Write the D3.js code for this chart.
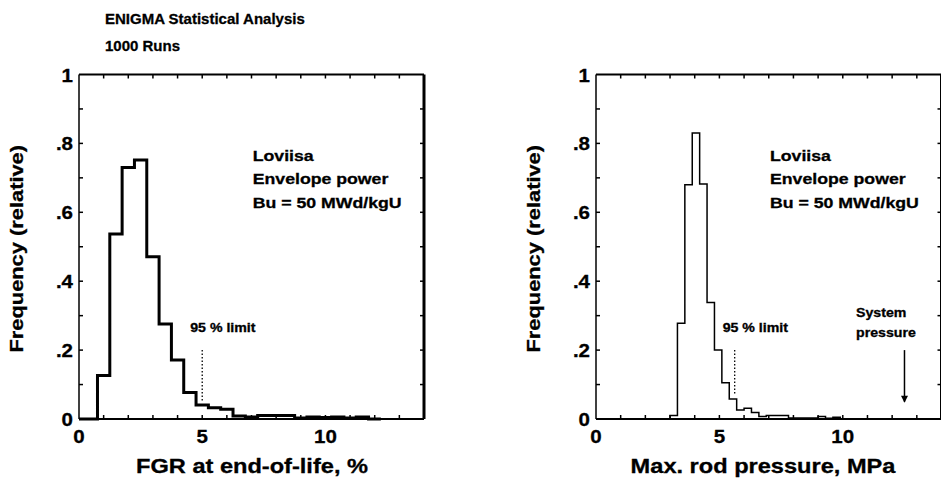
<!DOCTYPE html>
<html><head><meta charset="utf-8">
<script src="https://cdn.jsdelivr.net/npm/d3@7"></script>
<style>body{margin:0;background:#fff}text{font-family:"Liberation Sans",Arial,sans-serif;font-weight:bold;fill:#000;stroke:#000;stroke-width:0.3px}</style>
</head><body>
<svg id="c" width="941" height="478"></svg>
<script>
// ---- data ----
const titleLines = ["ENIGMA Statistical Analysis", "1000 Runs"];
const annotLines = ["Loviisa", "Envelope power", "Bu = 50 MWd/kgU"];
const xTickLabels = ["0", "5", "10"];
const yTickLabels = ["0", ".2", ".4", ".6", ".8", "1"];
const yTickValues = [0, 0.2, 0.4, 0.6, 0.8, 1];
const xTickValues = [0, 5, 10];

// FGR histogram (left): bin lower edges and relative frequency
const fgrEdges = [0.75,1.25,1.75,2.25,2.75,3.25,3.75,4.25,4.75,5.25,5.75,6.25,6.75,7.25,7.75,8.25,8.75,9.25,9.75,10.25,10.75,11.25,11.75];
const fgrFreq  = [0.126,0.537,0.73,0.752,0.471,0.276,0.171,0.077,0.041,0.033,0.028,0.009,0.006,0.01,0.01,0.01,0.003,0.006,0.004,0.006,0.003,0.006,0.0];
const fgrBinWidth = 0.5;
const fgrLimit = 5.0;

// Rod pressure histogram (right)
const prEdges = [3.0,3.3,3.6,3.9,4.2,4.5,4.8,5.1,5.4,5.7,6.0,6.3,6.6,6.9,7.2,7.5,7.8,8.1,8.4,8.7,9.0,9.3,9.6,9.9];
const prFreq  = [0.01,0.278,0.68,0.83,0.682,0.338,0.2,0.105,0.058,0.026,0.031,0.019,0.007,0.01,0.01,0.01,0.003,0.003,0.003,0.003,0.007,0.002,0.005,0.0];
const prBinWidth = 0.3;
const prLimit = 5.62;
const systemPressure = 12.5;

const xLabels = ["FGR at end-of-life, %", "Max. rod pressure, MPa"];
const yLabel = "Frequency (relative)";

// ---- drawing ----
const svg = d3.select("#c");
function txt(g, x, y, s, size, sx, anchor, rot) {
  return g.append("text").attr("font-size", size).attr("text-anchor", anchor || "start")
    .attr("transform", `translate(${x},${y})` + (rot ? ` rotate(${rot})` : "") + ` scale(${sx},1)`).text(s);
}

titleLines.forEach((s, i) => txt(svg, 105, 24 + i * 27, s, 15, 1.0));

function panel(x0, x1, edges, freq, bw, lineW, limit, xl, xlCenter, annX, sysP) {
  const x = d3.scaleLinear().domain([0, 14]).range([x0, x1]);
  const y = d3.scaleLinear().domain([0, 1]).range([419, 74.5]);
  const g = svg.append("g");
  // frame
  g.append("line").attr("x1", x0).attr("x2", x1).attr("y1", y(0)).attr("y2", y(0)).attr("stroke", "#000").attr("stroke-width", 2);
  g.append("line").attr("x1", x0).attr("x2", x1).attr("y1", y(1)).attr("y2", y(1)).attr("stroke", "#000").attr("stroke-width", 2);
  g.append("line").attr("x1", x0).attr("x2", x0).attr("y1", y(0)).attr("y2", y(1)).attr("stroke", "#000").attr("stroke-width", 1.5);
  g.append("line").attr("x1", x1).attr("x2", x1).attr("y1", y(0)).attr("y2", y(1)).attr("stroke", "#000").attr("stroke-width", 3);
  // ticks
  const xt = d3.range(1, 14);
  const yt = d3.range(1, 10).map(d => d / 10);
  xt.forEach(v => {
    g.append("line").attr("x1", x(v)).attr("x2", x(v)).attr("y1", y(0)).attr("y2", y(0) - 4).attr("stroke", "#000").attr("stroke-width", 1.5);
    g.append("line").attr("x1", x(v)).attr("x2", x(v)).attr("y1", y(1)).attr("y2", y(1) + 4).attr("stroke", "#000").attr("stroke-width", 1.5);
  });
  yt.forEach(v => {
    g.append("line").attr("x1", x0).attr("x2", x0 + 4).attr("y1", y(v)).attr("y2", y(v)).attr("stroke", "#000").attr("stroke-width", 1.5);
    g.append("line").attr("x1", x1).attr("x2", x1 - 4).attr("y1", y(v)).attr("y2", y(v)).attr("stroke", "#000").attr("stroke-width", 1.5);
  });
  // tick labels
  xTickValues.forEach((v, i) => txt(g, x(v), 443, xTickLabels[i], 19, 1.08, "middle"));
  yTickValues.forEach((v, i) => txt(g, x0 - 6, y(v) + 7, yTickLabels[i], 19, 1.08, "end"));
  // histogram step path
  const pts = [[x(0), y(0)], [x(edges[0]), y(0)]];
  edges.forEach((e, i) => { pts.push([x(e), y(freq[i])]); pts.push([x(e + bw), y(freq[i])]); });
  pts.push([x(edges[edges.length - 1] + bw), y(0)]);
  g.append("path").attr("d", d3.line()(pts)).attr("fill", "none").attr("stroke", "#000").attr("stroke-width", lineW).attr("stroke-linejoin", "miter");
  // 95% limit
  let fAt = 0; edges.forEach((e, i) => { if (limit >= e && limit < e + bw) fAt = freq[i]; });
  g.append("line").attr("x1", x(limit)).attr("x2", x(limit)).attr("y1", y(0.2)).attr("y2", y(fAt) - 4)
    .attr("stroke", "#000").attr("stroke-width", 1.3).attr("stroke-dasharray", "1.5,2");
  txt(g, x(limit) - 12, 332, "95 % limit", 12, 1.18);
  // annotation
  annotLines.forEach((s, i) => txt(g, annX, 161 + i * 23.3, s, 15, 1.18));
  // axis labels
  txt(g, xlCenter, 473, xl, 20, 1.18, "middle");
  txt(g, x0 - 56, (y(0) + y(1)) / 2 + 2, yLabel, 19, 1.15, "middle", -90);
  if (sysP !== undefined) {
    txt(g, 856, 317, "System", 12, 1.18, "start");
    txt(g, 856, 337, "pressure", 12, 1.18, "start");
    g.append("line").attr("x1", x(sysP)).attr("x2", x(sysP)).attr("y1", y(0.2)).attr("y2", y(0.05)).attr("stroke", "#000").attr("stroke-width", 1.5);
    g.append("path").attr("d", `M${x(sysP) - 3.5},${y(0.05) - 6}L${x(sysP) + 3.5},${y(0.05) - 6}L${x(sysP)},${y(0.05) + 1}Z`).attr("fill", "#000");
  }
}
panel(79, 424, fgrEdges, fgrFreq, fgrBinWidth, 3, fgrLimit, xLabels[0], 252, 252.7);
panel(596, 941.5, prEdges, prFreq, prBinWidth, 1.5, prLimit, xLabels[1], 763, 770, systemPressure);
</script></body></html>
